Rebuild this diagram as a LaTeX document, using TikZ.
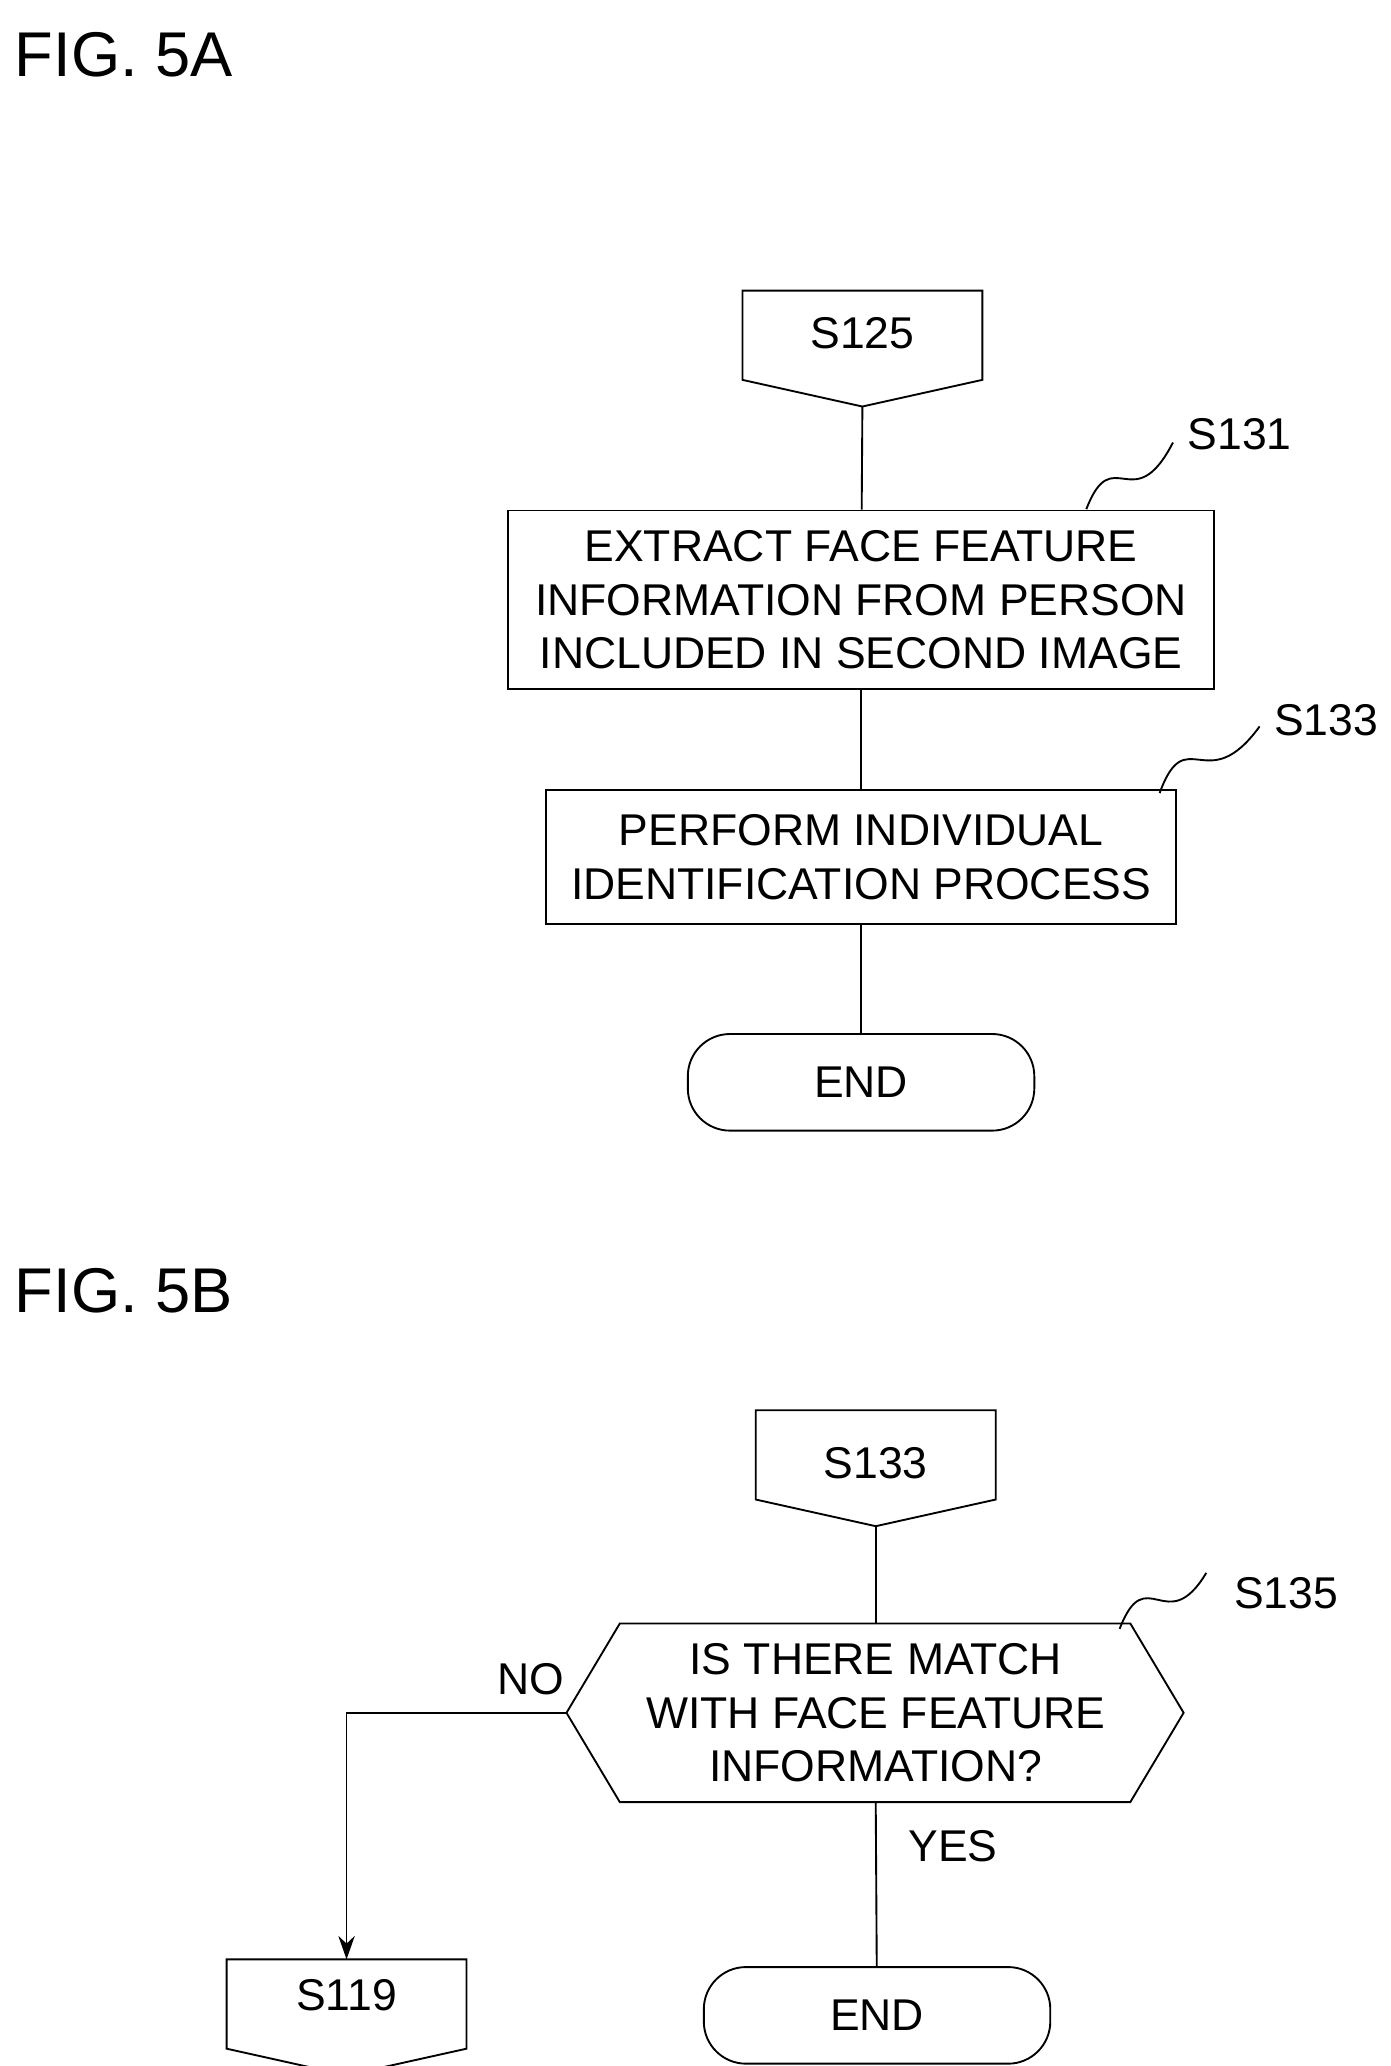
\documentclass[tikz,border=0pt]{standalone}
\usepackage{fontspec}
\setmainfont{Liberation Sans}
\usetikzlibrary{positioning,arrows.meta}
\tikzset{
  box/.style={draw, thick, minimum width=#1, align=center, font=\fontsize{19}{23}\selectfont},
  term/.style={draw, thick, rounded corners=18pt, minimum width=5.2cm, minimum height=1.45cm, font=\fontsize{19}{23}\selectfont},
  lbl/.style={font=\fontsize{19}{23}\selectfont},
  fig/.style={font=\fontsize{27}{32}\selectfont, anchor=north west},
  flow/.style={thick},
}
\newcommand{\offpage}[3]{% name, center x, top y
  \draw[thick] (#2-90,#3) -- (#2+90,#3) -- (#2+90,#3-67) -- (#2,#3-87) -- (#2-90,#3-67) -- cycle;
  \coordinate (#1-in) at (#2,#3);
  \coordinate (#1-out) at (#2,#3-87);
}
\begin{document}
\begin{tikzpicture}[x=0.02cm,y=0.02cm]
\useasboundingbox (0,0) rectangle (1043,-1550);
% FIG. 5A
\node[fig] (figA) at (5,-18) {FIG. 5A};
\offpage{c125}{647}{-218}
\node[lbl] (t125) at (647,-250) {S125};
\node[box=10.6cm, minimum height=2.68cm] (s131) at (646,-450)
  {EXTRACT FACE FEATURE\\INFORMATION FROM PERSON\\INCLUDED IN SECOND IMAGE};
\node[box=9.45cm, minimum height=2cm] (s133) at (646,-643)
  {PERFORM INDIVIDUAL\\IDENTIFICATION PROCESS};
\node[term] (endA) at (646,-812) {END};
\draw[flow] (c125-out) -- (s131);
\draw[flow] (s131) -- (s133);
\draw[flow] (s133) -- (endA);
\node[lbl] (r131) at (930,-326) {S131};
\draw[thick] (815,-382) .. controls (835,-330) and (850,-390) .. (880,-332);
\node[lbl] (r133) at (995,-540) {S133};
\draw[thick] (870,-595) .. controls (890,-540) and (905,-600) .. (945,-545);
% FIG. 5B
\node[fig] (figB) at (5,-945) {FIG. 5B};
\offpage{c133}{657}{-1058}
\node[lbl] (t133) at (657,-1098) {S133};
\draw[thick] (425,-1285) -- (465,-1218) -- (848,-1218) -- (888,-1285) -- (848,-1352) -- (465,-1352) -- cycle;
\node[lbl, align=center] (s135) at (657,-1285) {IS THERE MATCH\\WITH FACE FEATURE\\INFORMATION?};
\coordinate (d-top) at (657,-1218);
\coordinate (d-left) at (425,-1285);
\coordinate (d-bot) at (657,-1352);
\node[lbl] (r135) at (965,-1195) {S135};
\draw[thick] (840,-1222) .. controls (860,-1170) and (875,-1230) .. (905,-1180);
\offpage{c119}{260}{-1470}
\node[lbl] (t119) at (260,-1497) {S119};
\node[term] (endB) at (658,-1512) {END};
\draw[flow] (c133-out) -- (d-top);
\draw[flow, -{Stealth[length=10pt,width=7pt]}] (d-left) -| (c119-in);
\draw[flow] (d-bot) -- (endB);
\node[lbl] (no) at (398,-1260) {NO};
\node[lbl] (yes) at (715,-1385) {YES};
\end{tikzpicture}
\end{document}
